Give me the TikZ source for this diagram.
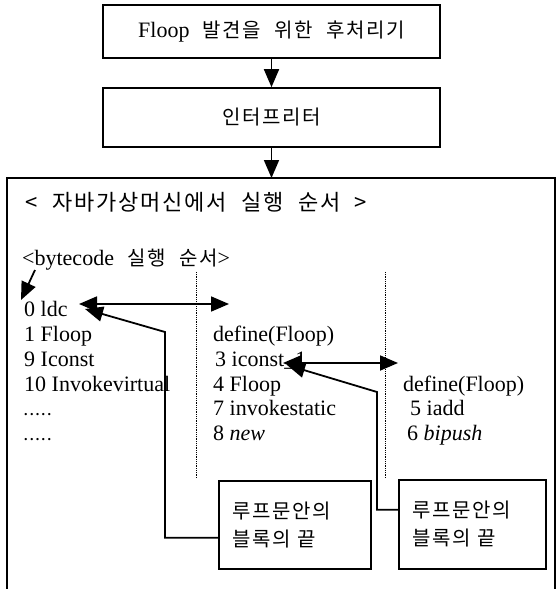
\documentclass[tikz,border=0pt]{standalone}
\usepackage{fontspec}
\setmainfont{Liberation Serif}
\newfontfamily\kr[WordSpace=2.2,LetterSpace=8]{Noto Sans CJK KR}
\usetikzlibrary{arrows.meta}
\begin{document}
\begin{tikzpicture}[x=1pt,y=-1pt,
  font=\fontsize{22}{26}\selectfont,
  box/.style={draw, line width=1.6pt, inner sep=0pt},
  tipend/.style={-{Triangle[length=18pt,width=15pt]}},
  tipboth/.style={{Triangle[length=18pt,width=15pt]}-{Triangle[length=18pt,width=15pt]}},
  conn/.style={line width=1.8pt},
  code/.style={anchor=base west, inner sep=0pt},
  kor/.style={font=\kr\fontsize{20}{28}\selectfont},
  callout/.style={box, kor, anchor=north west, align=left, inner xsep=14pt, inner ysep=0pt},
  sep/.style={densely dotted, line width=0.8pt}]
\useasboundingbox (0,0) rectangle (559,589);

% top flow
\node[box, minimum width=337pt, minimum height=53pt] (t1) at (271.5,31.5) {Floop{\kr\fontsize{20}{24}\selectfont\ 발견을 위한 후처리기}};
\node[box, minimum width=337pt, minimum height=59pt] (t2) at (271.5,117.5) {{\kr\fontsize{20}{24}\selectfont 인터프리터}};
\coordinate (bbtop) at (271.5,178);
\draw[conn,tipend] (t1.south) -- (t2.north);
\draw[conn,tipend] (t2.south) -- (bbtop);

% big frame (open at the bottom)
\draw[line width=1.6pt] (7,589) -- (7,178) -- (555,178) -- (555,589);

% headings
\node[code, font=\kr\fontsize{22}{26}\selectfont] (title) at (25,210) {< 자바가상머신에서 실행 순서 >};
\node[code] (bc) at (22,265) {<bytecode{\kr\fontsize{20}{24}\selectfont\ 실행 순서}>};

% separators
\draw[sep] (196,272) -- (196,478);
\draw[sep] (385,272) -- (385,478);

% left column
\node[code] (l0) at (24,316) {0 ldc};
\node[code] (l1) at (24,341) {1 Floop};
\node[code] (l9) at (24,366) {9 Iconst};
\node[code] (l10) at (24,391) {10 Invokevirtual};
\node[code] (ld1) at (24,415) {\fontsize{14}{16}\selectfont \textbf{.}\,\textbf{.}\,\textbf{.}\,\textbf{.}\,\textbf{.}};
\node[code] (ld2) at (24,440) {\fontsize{14}{16}\selectfont \textbf{.}\,\textbf{.}\,\textbf{.}\,\textbf{.}\,\textbf{.}};

% middle column
\node[code] (m0) at (213,341) {define(Floop)};
\node[code] (m3) at (215,366) {3 iconst\_1};
\node[code] (m4) at (213,391) {4 Floop};
\node[code] (m7) at (213,415) {7 invokestatic};
\node[code] (m8) at (213,440) {8 \textit{new}};

% right column
\node[code] (r0) at (403,391) {define(Floop)};
\node[code] (r5) at (410,415) {5 iadd};
\node[code] (r6) at (407,440) {6 \textit{bipush}};

% callouts
\node[callout, text width=124pt, minimum height=88pt] (lb) at (218,480) {루프문안의\\블록의 끝};
\node[callout, text width=119pt, minimum height=89pt] (rb) at (398,479) {루프문안의\\블록의 끝};

% arrows
\coordinate (bcs) at (35,270);
\coordinate (l0t) at (21,300);
\draw[conn,tipend] (bcs) -- (l0t);

\coordinate (a1l) at (79,304);
\coordinate (a1r) at (229,304);
\draw[conn,tipboth] (a1l) -- (a1r);

\coordinate (a2l) at (283,363);
\coordinate (a2r) at (398,363);
\draw[conn,tipboth] (a2l) -- (a2r);

\coordinate (lk) at (165,332);
\coordinate (lt) at (85,309);
\draw[conn,tipend] ([yshift=-13pt]lb.west) -| (lk) -- (lt);

\coordinate (rk) at (377,392);
\coordinate (rt) at (287,365);
\draw[conn,tipend] ([yshift=14.5pt]rb.west) -| (rk) -- (rt);
\end{tikzpicture}
\end{document}
